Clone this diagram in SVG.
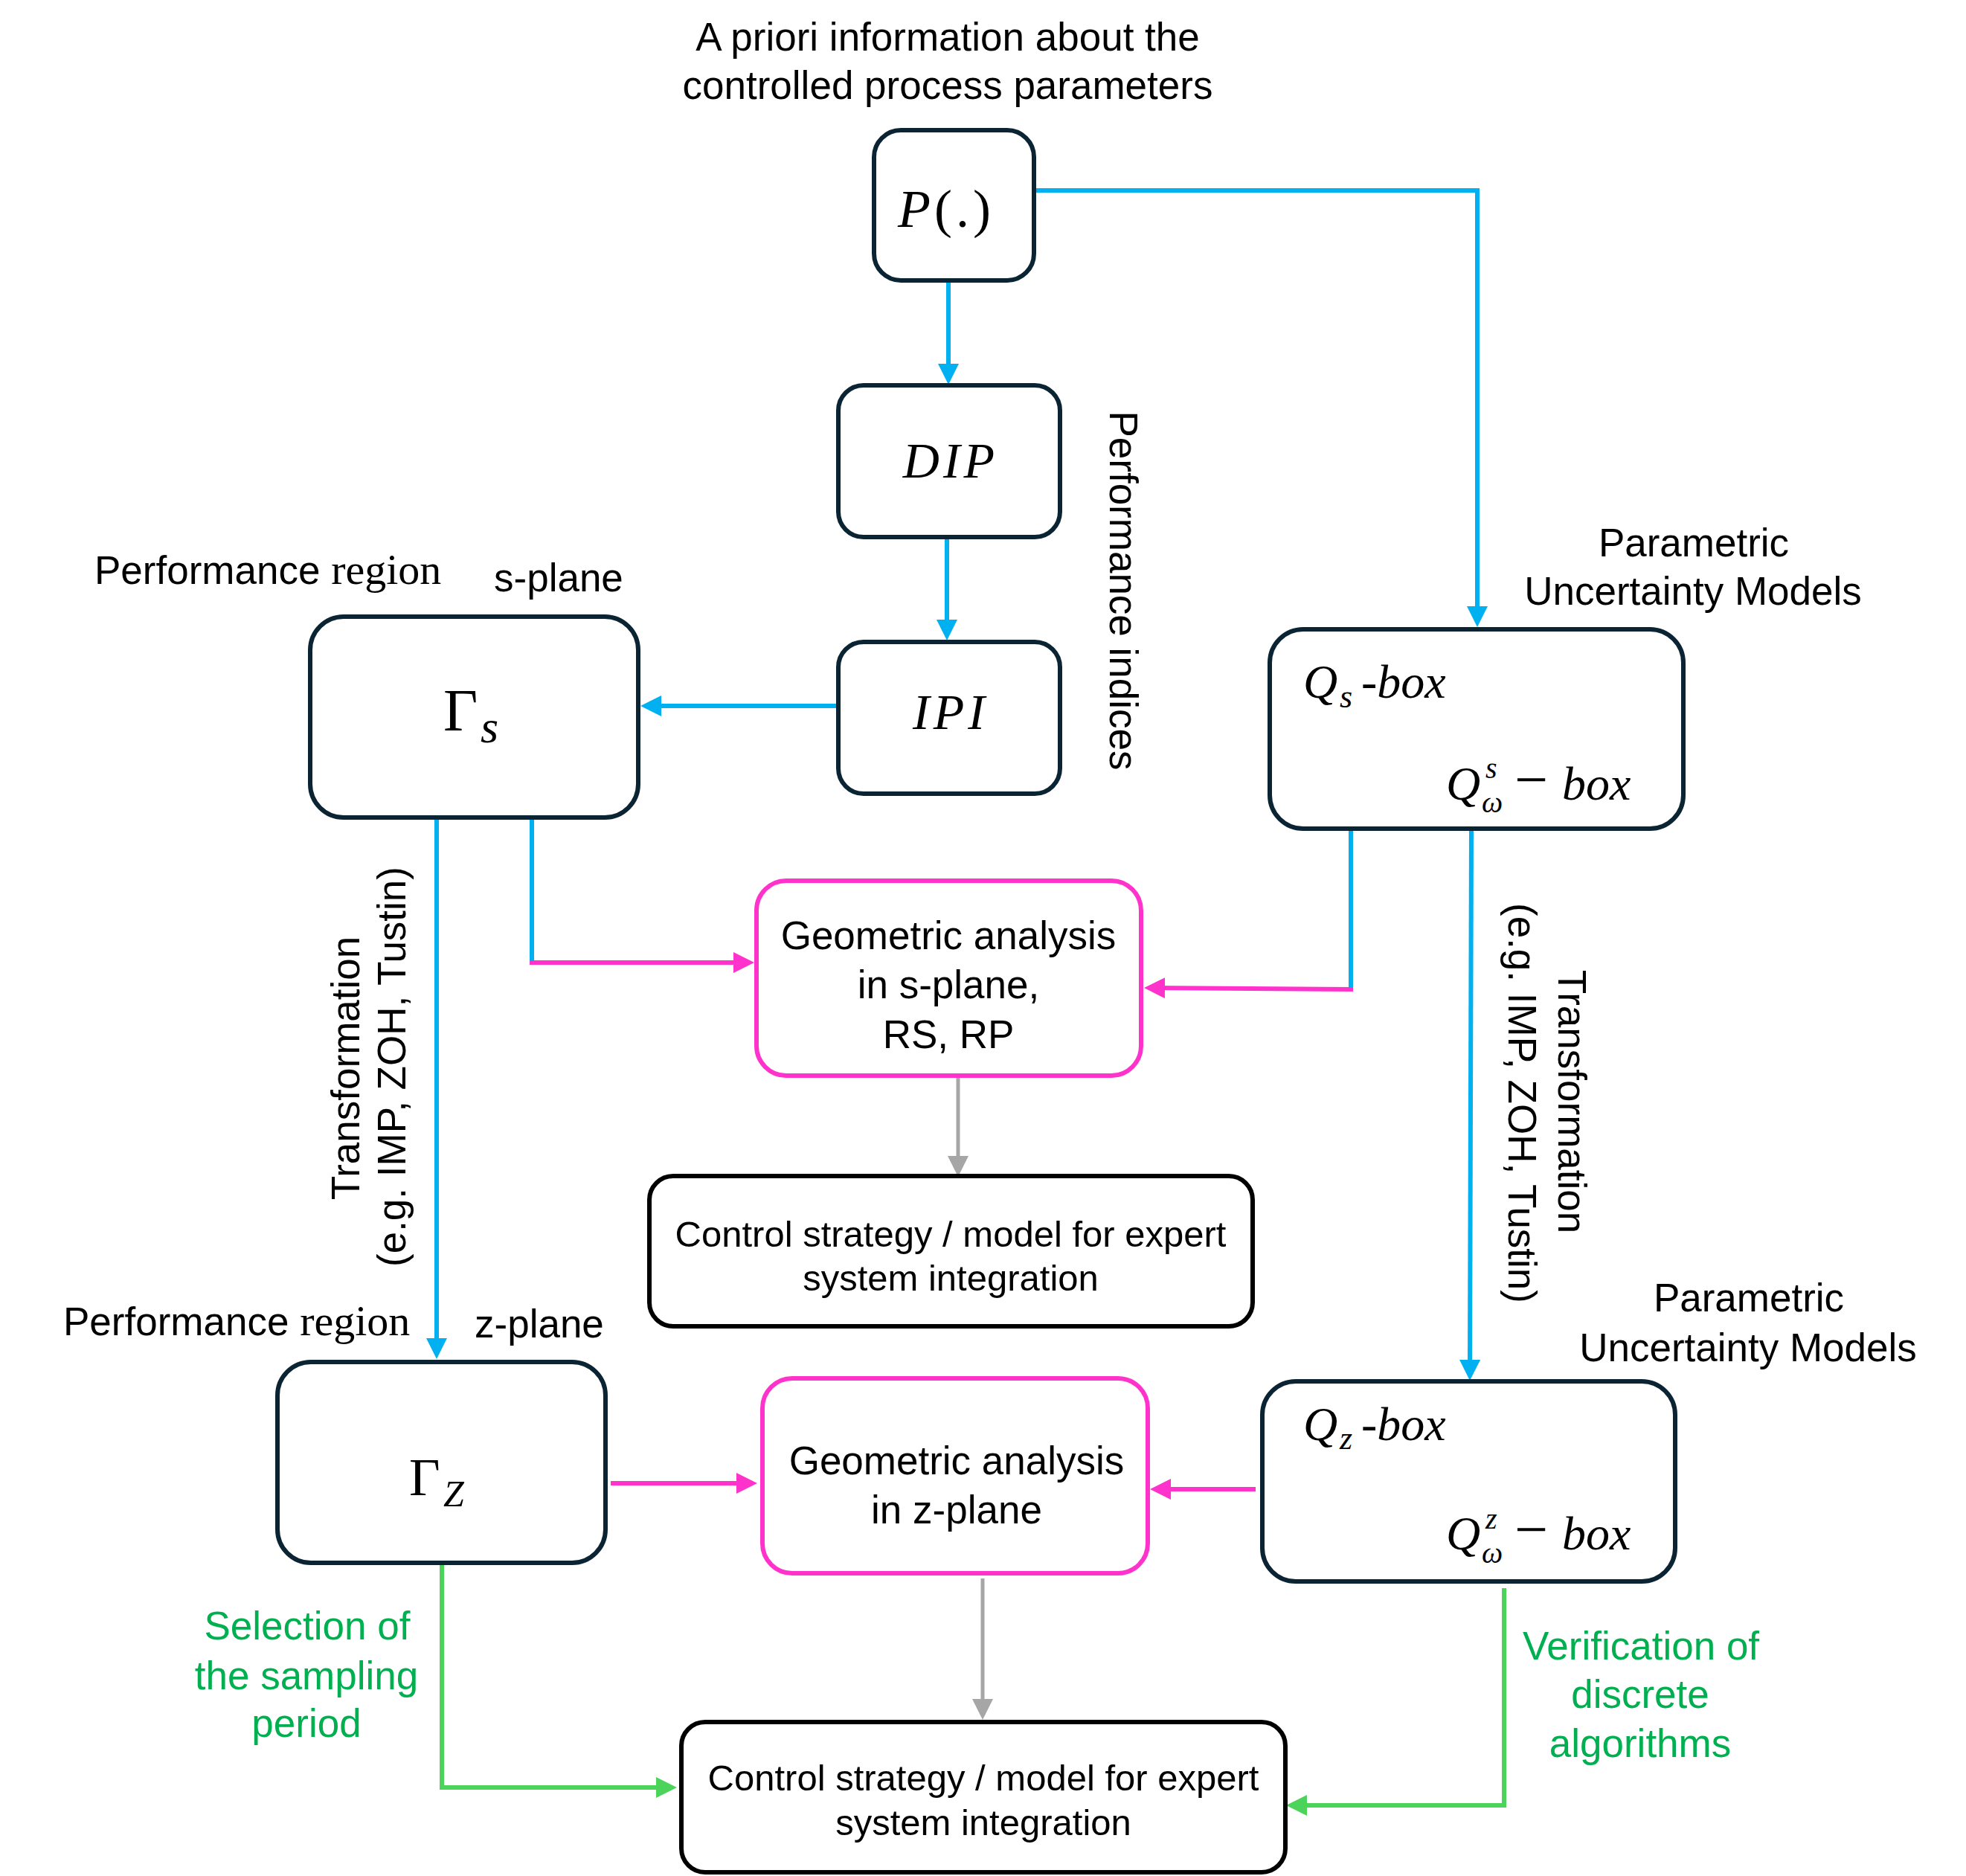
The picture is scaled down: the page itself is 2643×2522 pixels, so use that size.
<svg xmlns="http://www.w3.org/2000/svg" width="2643" height="2522" viewBox="0 0 2643 2522">
<style>
.node{fill:#fff;stroke:#0B2433;stroke-width:6}
.blk{fill:#fff;stroke:#000;stroke-width:6}
.pnk{fill:#fff;stroke:#FF33CC;stroke-width:6}
.t{font-family:"Liberation Sans",Arial,sans-serif;font-size:53px;fill:#000}
.c{text-anchor:middle}
.sm{font-size:49px}
.g{fill:#00B050}
.sf{font-family:"Liberation Serif","Times New Roman",serif;font-size:58px}
.m{font-family:"Liberation Serif","Times New Roman",serif;font-style:italic;fill:#000}
.up{font-style:normal}
.cb{fill:none;stroke:#00B0F0;stroke-width:6}
.cp{fill:none;stroke:#FF33CC;stroke-width:6}
.cg{fill:none;stroke:#4CD35A;stroke-width:6}
.cy{fill:none;stroke:#A6A6A6;stroke-width:5}
</style>
<defs>
<marker id="ab" markerUnits="userSpaceOnUse" viewBox="0 0 28 28" markerWidth="28" markerHeight="28" refX="18" refY="14" orient="auto"><path d="M0,0L28,14L0,28z" fill="#00B0F0"/></marker>
<marker id="ap" markerUnits="userSpaceOnUse" viewBox="0 0 28 28" markerWidth="28" markerHeight="28" refX="18" refY="14" orient="auto"><path d="M0,0L28,14L0,28z" fill="#FF33CC"/></marker>
<marker id="ag" markerUnits="userSpaceOnUse" viewBox="0 0 28 28" markerWidth="28" markerHeight="28" refX="18" refY="14" orient="auto"><path d="M0,0L28,14L0,28z" fill="#4CD35A"/></marker>
<marker id="ay" markerUnits="userSpaceOnUse" viewBox="0 0 28 28" markerWidth="28" markerHeight="28" refX="18" refY="14" orient="auto"><path d="M0,0L28,14L0,28z" fill="#A6A6A6"/></marker>
</defs>

<g id="labels">
<text class="t c" x="1274" y="68">A priori information about the</text>
<text class="t c" x="1274" y="133">controlled process parameters</text>
<text class="t" x="127" y="785">Performance <tspan class="sf">region</tspan></text>
<text class="t" x="664" y="795">s-plane</text>
<text class="t" x="85" y="1795">Performance <tspan class="sf">region</tspan></text>
<text class="t" x="638" y="1798">z-plane</text>
<text class="t c" x="2277" y="748">Parametric</text>
<text class="t c" x="2276" y="813">Uncertainty Models</text>
<text class="t c" x="2351" y="1763">Parametric</text>
<text class="t c" x="2350" y="1830">Uncertainty Models</text>
<text class="t c" transform="rotate(90 1492 794)" x="1492" y="794">Performance indices</text>
<text class="t c" transform="rotate(-90 483 1436)" x="483" y="1436">Transformation</text>
<text class="t c" transform="rotate(-90 545 1434)" x="545" y="1434">(e.g. IMP, ZOH, Tustin)</text>
<text class="t c" transform="rotate(90 2095 1481)" x="2095" y="1481">Transformation</text>
<text class="t c" transform="rotate(90 2028 1483)" x="2028" y="1483">(e.g. IMP, ZOH, Tustin)</text>
<text class="t c g" x="413" y="2204">Selection of</text>
<text class="t c g" x="412" y="2271">the sampling</text>
<text class="t c g" x="412" y="2335">period</text>
<text class="t c g" x="2206" y="2231">Verification of</text>
<text class="t c g" x="2205" y="2296">discrete</text>
<text class="t c g" x="2205" y="2362">algorithms</text>
</g>

<g id="connectors">
<path class="cb" d="M1275,378V507" marker-end="url(#ab)"/>
<path class="cb" d="M1391,256H1986V833" marker-end="url(#ab)"/>
<path class="cb" d="M1273,722V851" marker-end="url(#ab)"/>
<path class="cb" d="M1126,949H871" marker-end="url(#ab)"/>
<path class="cb" d="M587,1100V1817" marker-end="url(#ab)"/>
<path class="cb" d="M715,1100V1294"/>
<path class="cp" d="M712,1294H1004" marker-end="url(#ap)"/>
<path class="cb" d="M1816,1115V1329"/>
<path class="cp" d="M1819,1330L1548,1328" marker-end="url(#ap)"/>
<path class="cy" d="M1288,1447V1572" marker-end="url(#ay)"/>
<path class="cb" d="M1978,1115L1976,1846" marker-end="url(#ab)"/>
<path class="cp" d="M821,1994H1008" marker-end="url(#ap)"/>
<path class="cp" d="M1688,2002H1556" marker-end="url(#ap)"/>
<path class="cy" d="M1321,2122V2302" marker-end="url(#ay)"/>
<path class="cg" d="M594,2104V2403H900" marker-end="url(#ag)"/>
<path class="cg" d="M2022,2135V2427H1739" marker-end="url(#ag)"/>
</g>

<g id="node-P">
<rect class="node" x="1175" y="175" width="215" height="202" rx="36"/>
<text class="m" x="1272" y="305" font-size="72" text-anchor="middle" letter-spacing="5">P<tspan class="up">(.)</tspan></text>
</g>
<g id="node-DIP">
<rect class="node" x="1127" y="518" width="298" height="204" rx="34"/>
<text class="m" x="1278" y="642" font-size="68" text-anchor="middle" letter-spacing="5">DIP</text>
</g>
<g id="node-IPI">
<rect class="node" x="1127" y="863" width="298" height="204" rx="34"/>
<text class="m" x="1278" y="980" font-size="68" text-anchor="middle" letter-spacing="5">IPI</text>
</g>
<g id="node-Gs">
<rect class="node" x="417" y="829" width="441" height="270" rx="45"/>
<text class="m up" x="596" y="982" font-size="80">Γ</text>
<text class="m" x="646" y="998" font-size="62">s</text>
</g>
<g id="node-Qs">
<rect class="node" x="1707" y="846" width="556" height="268" rx="45"/>
<text class="m" x="1752" y="938" font-size="64">Q</text>
<text class="m" x="1801" y="951" font-size="44">s</text>
<text class="m" x="1830" y="938" font-size="64">-box</text>
<text class="m" x="1944" y="1075" font-size="64">Q</text>
<text class="m" x="1992" y="1092" font-size="40">ω</text>
<text class="m" x="1997" y="1046" font-size="40">s</text>
<text class="m up" x="2036" y="1075" font-size="80">−</text>
<text class="m" x="2100" y="1075" font-size="64">box</text>
</g>
<g id="node-GeoS">
<rect class="pnk" x="1017" y="1184" width="517" height="262" rx="40"/>
<text class="t c" x="1275" y="1276">Geometric analysis</text>
<text class="t c" x="1275" y="1342">in s-plane,</text>
<text class="t c" x="1275" y="1409">RS, RP</text>
</g>
<g id="node-Ctrl1">
<rect class="blk" x="873" y="1581" width="811" height="202" rx="32"/>
<text class="t c sm" x="1278" y="1676">Control strategy / model for expert</text>
<text class="t c sm" x="1278" y="1735">system integration</text>
</g>
<g id="node-Gz">
<rect class="node" x="373" y="1831" width="441" height="270" rx="45"/>
<text class="m up" x="550" y="2010" font-size="72">Γ</text>
<text class="m" x="596" y="2025" font-size="50">Z</text>
</g>
<g id="node-GeoZ">
<rect class="pnk" x="1025" y="1853" width="518" height="262" rx="40"/>
<text class="t c" x="1286" y="1982">Geometric analysis</text>
<text class="t c" x="1286" y="2048">in z-plane</text>
</g>
<g id="node-Qz">
<rect class="node" x="1697" y="1857" width="555" height="269" rx="45"/>
<text class="m" x="1752" y="1936" font-size="64">Q</text>
<text class="m" x="1801" y="1948" font-size="44">z</text>
<text class="m" x="1830" y="1936" font-size="64">-box</text>
<text class="m" x="1944" y="2083" font-size="64">Q</text>
<text class="m" x="1992" y="2101" font-size="40">ω</text>
<text class="m" x="1997" y="2055" font-size="40">z</text>
<text class="m up" x="2036" y="2083" font-size="80">−</text>
<text class="m" x="2100" y="2083" font-size="64">box</text>
</g>
<g id="node-Ctrl2">
<rect class="blk" x="916" y="2315" width="812" height="202" rx="32"/>
<text class="t c sm" x="1322" y="2407">Control strategy / model for expert</text>
<text class="t c sm" x="1322" y="2467">system integration</text>
</g>
</svg>
